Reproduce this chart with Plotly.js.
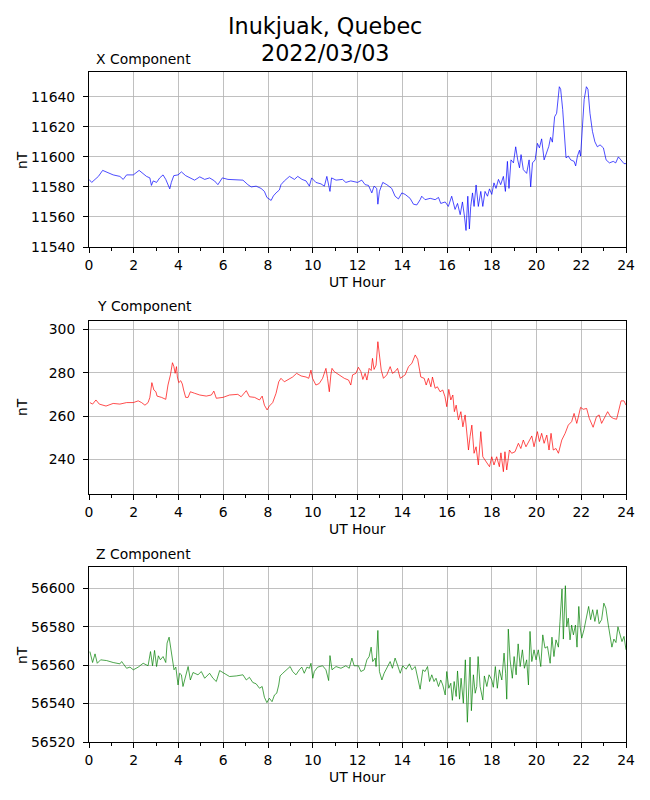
<!DOCTYPE html>
<html>
<head>
<meta charset="utf-8">
<script src="https://cdn.plot.ly/plotly-3.0.1.min.js"></script>
<style>html,body{margin:0;padding:0;background:#fff;}#chart{width:650px;height:800px;}</style>
</head>
<body>
<div id="chart"></div>
<script>
// ---- data ----
const xHours = [0.00,0.12,0.27,0.42,0.61,0.79,1.08,1.38,1.53,1.68,1.98,2.24,2.42,2.57,2.72,2.79,2.87,3.02,3.16,3.31,3.43,3.53,3.61,3.68,3.79,3.98,4.13,4.32,4.50,4.72,4.95,5.17,5.39,5.61,5.76,5.96,6.21,6.58,6.88,7.10,7.25,7.47,7.69,7.84,7.95,8.14,8.24,8.36,8.51,8.58,8.73,8.96,9.18,9.33,9.52,9.70,9.85,9.95,10.14,10.37,10.52,10.63,10.71,10.77,10.84,11.04,11.33,11.48,11.70,
12.00,12.19,12.34,12.49,12.64,12.74,12.86,12.91,12.98,13.13,13.31,13.53,13.68,13.83,13.98,14.13,14.35,14.50,14.65,14.80,14.87,15.02,15.25,15.47,15.62,15.72,15.92,16.06,16.21,16.36,16.47,16.59,16.69,16.78,16.85,16.93,17.00,17.06,17.14,17.21,17.30,17.40,17.51,17.60,17.70,17.81,17.90,18.00,18.10,18.19,18.30,18.40,18.52,18.61,18.70,18.77,18.86,18.97,19.07,19.16,19.24,19.31,19.41,19.56,19.67,19.74,19.82,19.94,20.04,20.13,20.23,20.34,20.46,20.55,20.63,20.71,20.81,20.90,21.02,21.08,21.17,21.25,21.32,21.42,21.53,21.68,21.75,21.83,21.92,21.97,22.06,22.13,22.23,22.30,22.39,22.50,22.61,22.72,22.84,22.99,23.11,23.26,23.43,23.54,23.66,23.81,23.91,24.00];
const xValues = [11585,11583,11585,11587,11591,11590,11588,11587,11585,11588,11588,11591,11589,11587,11586,11581,11584,11583,11586,11588,11585,11581.5,11578.7,11583,11587.5,11588,11590,11587.5,11586,11584.5,11586.7,11585,11586,11584,11581.5,11586,11585,11585,11584.5,11581.5,11580,11580.5,11579,11577,11573,11571,11574,11576,11578,11581.5,11584,11587,11585,11587,11585,11584,11580.5,11586,11583,11582,11580.5,11587,11580.5,11577,11586,11584.5,11585,11583,11584,
11583,11584.5,11581.5,11581,11576,11580.5,11579,11568.5,11577,11583,11581.5,11579,11573.8,11572,11576,11575,11572.4,11568.5,11568,11571.5,11573.8,11571.5,11572.4,11571.5,11573,11569,11570,11567,11573.8,11565,11569,11561.5,11570,11560.5,11551,11573.8,11552,11567,11576,11567,11581.3,11567,11577,11567,11577,11573.8,11578.7,11575,11582.7,11579,11585,11581.5,11587,11577,11597,11579,11598,11596,11606.7,11598,11592.7,11601.5,11591.5,11589,11598,11580,11596,11598,11609,11606,11612,11598,11602.7,11607,11613,11609.8,11626.7,11629,11646.7,11645,11631.5,11615,11599.3,11600.5,11598,11597,11594,11600.5,11604.4,11600.5,11620.5,11638.2,11646.7,11645,11629,11617,11610,11606.7,11608,11606,11598,11596,11597,11596,11600,11597,11595.5,11595.5];

const yHours = [0.04,0.16,0.31,0.46,0.76,1.08,1.38,1.68,1.98,2.20,2.35,2.50,2.64,2.72,2.81,2.90,2.99,3.04,3.24,3.43,3.53,3.64,3.73,3.79,3.85,3.91,3.95,4.01,4.10,4.17,4.23,4.32,4.43,4.53,4.72,4.95,5.24,5.47,5.58,5.69,5.99,6.28,6.65,6.80,7.03,7.17,7.40,7.62,7.74,7.84,7.96,8.06,8.21,8.36,8.48,8.58,8.73,8.88,9.10,9.28,9.48,9.70,9.82,9.92,9.99,10.14,10.29,10.44,10.59,10.66,10.74,10.81,10.86,10.96,11.18,11.41,11.60,11.70,11.78,11.93,
12.04,12.15,12.24,12.34,12.42,12.52,12.61,12.67,12.74,12.83,12.91,12.98,13.06,13.16,13.31,13.46,13.56,13.68,13.79,13.91,14.13,14.28,14.43,14.58,14.69,14.83,14.98,15.07,15.17,15.28,15.35,15.47,15.57,15.69,15.81,15.91,15.99,16.08,16.17,16.26,16.33,16.41,16.51,16.62,16.71,16.81,16.88,16.96,17.03,17.11,17.21,17.30,17.40,17.51,17.60,17.70,17.78,17.90,18.00,18.10,18.22,18.34,18.41,18.52,18.59,18.67,18.79,18.89,19.04,19.19,19.30,19.41,19.53,19.64,19.79,19.89,20.04,20.13,20.23,20.34,20.46,20.56,20.65,20.75,20.87,20.98,21.13,21.28,21.42,21.57,21.68,21.80,21.89,21.97,22.09,22.24,22.36,22.53,22.68,22.80,22.91,23.06,23.18,23.31,23.43,23.58,23.70,23.78,23.91,24.00];
const yValues = [266.2,265.5,267.4,265.5,264.6,265.8,265.5,266.2,266.2,267,266.2,265,266.2,268.6,275.4,272,271.2,269.2,268.6,267.7,274.3,279,284.6,283,279.7,282.8,278,275.4,276.3,274.8,272,268.6,268.6,271.2,270.5,269.7,269.2,269.7,271.5,268.2,268.6,269.7,270,268.9,271.7,268.9,268.6,267.4,269.2,265,262.8,264.6,266.2,270.5,275.8,277.4,275.8,276.6,278,279.7,278.5,278,277.4,281.2,277.4,274.3,275,277.4,282,277.4,271.2,279,282,280.5,279,277.4,276.6,274.3,279,279.7,
282.5,280.5,276.9,279.7,276.6,282,281,286.6,281.5,283.5,294.3,288.9,281.2,277.4,279,282.8,279.7,280.5,282,277.4,279,282.8,284.3,288.2,286.2,278,277.4,274.3,277.4,273.5,278,272.8,273.5,271.2,272,268.9,264.3,272.3,267.4,269.7,262,265,258.2,262,255,260.5,254.3,244.3,250.5,255.8,242.8,245.8,237.4,252.8,241.2,239.7,238.2,236.6,241.2,237.4,241.2,236.6,243,234.3,243.5,235.1,244.3,242.8,243.5,247.4,245,248.9,245.8,248.2,250.8,245.8,252.8,248.2,252,247.4,251.2,244.3,252,244.3,245,242.8,248.9,252,255.8,257.4,261.2,256.6,261.2,264,263.1,263.5,258.9,254.8,259.7,260.5,256.6,259.7,262,259.7,258.9,258.5,263.5,267,267,265];

const zHours = [0.04,0.16,0.27,0.37,0.52,0.79,1.08,1.38,1.46,1.68,1.83,1.98,2.20,2.42,2.64,2.75,2.84,2.93,3.02,3.10,3.19,3.31,3.43,3.49,3.58,3.64,3.73,3.80,3.88,3.98,4.05,4.13,4.20,4.32,4.43,4.53,4.65,4.87,5.02,5.17,5.39,5.54,5.69,5.84,6.06,6.28,6.58,6.88,7.03,7.17,7.32,7.47,7.62,7.74,7.84,7.95,8.06,8.18,8.29,8.39,8.48,8.54,8.66,8.81,8.99,9.10,9.25,9.40,9.51,9.62,9.74,9.85,9.92,10.00,10.07,10.22,10.44,10.59,10.71,10.77,10.86,11.04,11.26,11.48,11.63,11.75,11.85,
12.04,12.15,12.30,12.42,12.52,12.61,12.68,12.79,12.83,12.91,12.98,13.09,13.19,13.34,13.46,13.56,13.68,13.80,13.91,14.02,14.17,14.32,14.43,14.58,14.72,14.80,14.92,15.02,15.13,15.22,15.32,15.42,15.51,15.62,15.72,15.81,15.92,15.99,16.08,16.17,16.24,16.32,16.41,16.47,16.56,16.63,16.73,16.82,16.91,16.97,17.03,17.09,17.18,17.26,17.33,17.39,17.48,17.60,17.67,17.78,17.88,18.00,18.07,18.16,18.25,18.34,18.45,18.55,18.62,18.67,18.74,18.82,18.92,19.00,19.09,19.18,19.27,19.37,19.46,19.56,19.64,19.71,19.79,19.89,19.98,20.08,20.19,20.28,20.38,20.49,20.61,20.69,20.78,20.87,20.98,21.05,21.14,21.20,21.29,21.35,21.42,21.50,21.57,21.65,21.74,21.81,21.89,21.95,22.02,22.12,22.24,22.33,22.42,22.51,22.61,22.71,22.80,22.91,23.01,23.10,23.21,23.31,23.37,23.46,23.55,23.64,23.73,23.82,23.91,24.00];
const zValues = [56567.1,56561.4,56565.9,56561,56562.8,56562.4,56561.4,56560.7,56561.9,56558.4,56559,56557.6,56559,56561,56559.7,56567.1,56559.7,56567.7,56559.3,56564.9,56562.8,56564.5,56561.4,56571.5,56574.6,56569.4,56562.8,56557.6,56559,56549.7,56555.8,56555,56548.9,56555,56559.3,56552.3,56556.2,56555,56556.7,56553.2,56555.8,56553.2,56551.5,56557.2,56555.8,56554.1,56554.4,56555,56552.3,56553.7,56551,56550.3,56548,56548.9,56543.3,56540.5,56542.8,56541,56544.5,56545.4,56549.7,56554.4,56555.8,56557.6,56559.3,56556.7,56555,56557.6,56559,56555.8,56559,56558.4,56561,56553.2,56556.7,56559,56559.7,56557.6,56552,56565,56557.6,56559.3,56558.4,56559.7,56558.4,56563.7,56559.7,
56559.7,56556.7,56557.6,56562.8,56564.5,56569.4,56561.9,56563.7,56559.3,56578.1,56556.7,56552.3,56555.8,56559.3,56561.9,56558.4,56563.7,56559.7,56555.8,56559.7,56557.9,56560.7,56557.6,56559.3,56550.6,56547.5,56557.6,56556.7,56559.3,56551.5,56555,56551.5,56553.2,56548.9,56552.3,56549.7,56544.5,56556.7,56548,56550.6,56541.7,56551.5,56543.7,56557,56542.3,56553.2,56540.2,56562.8,56530.3,56545.4,56564.2,56536.3,56555,56545.4,56548.9,56564.5,56548.9,56541.9,56554.4,56548.9,56555,56552.3,56548.5,56559.3,56548,56557.6,56552.3,56566.3,56555.8,56542.3,56578.8,56562.8,56553.2,56564.5,56555,56571.1,56559.3,56568,56558.4,56562.8,56549.7,56577.6,56561.9,56568,56562.8,56568,56559.3,56575.8,56568.9,56569.7,56561,56574.6,56564.5,56573.2,56569.4,56582.8,56599.7,56573.6,56601.4,56580,56584.5,56573.2,56580.9,56575.8,56580.9,56569.4,56590.6,56580,56574.1,56578.4,56584.5,56590.6,56583.7,56588.9,56582.8,56588.9,56581.6,56583.7,56592.3,56589.7,56580.9,56573.2,56569.4,56573.6,56571.8,56580,56575.8,56572.3,56575,56568];

const titleLines = ["Inukjuak, Quebec", "2022/03/03"];
const panelTitles = ["X Component", "Y Component", "Z Component"];
const xTickVals = [0,2,4,6,8,10,12,14,16,18,20,22,24];
const yTickX = [11540,11560,11580,11600,11620,11640];
const yTickY = [240,260,280,300];
const yTickZ = [56520,56540,56560,56580,56600];

// ---- chart ----
const FONT = "DejaVu Sans, Liberation Sans, sans-serif";
const H = 800, T = 72, B = 58, PH = H - T - B;
const py = px => (H - B - px) / PH; // pixel y -> paper y

const traces = [
  {x: xHours, y: xValues, xaxis: 'x', yaxis: 'y', mode: 'lines', line: {color: '#0000ff', width: 0.7}},
  {x: yHours, y: yValues, xaxis: 'x2', yaxis: 'y2', mode: 'lines', line: {color: '#ff0000', width: 0.7}},
  {x: zHours, y: zValues, xaxis: 'x3', yaxis: 'y3', mode: 'lines', line: {color: '#008000', width: 0.7}}
];

function xAxis(anchor) {
  return {
    anchor: anchor, domain: [0, 1], range: [0, 24], tickvals: xTickVals,
    ticks: 'outside', ticklen: 5, tickwidth: 1, tickcolor: '#000',
    showline: true, linecolor: '#000', linewidth: 1, mirror: true,
    showgrid: true, gridcolor: '#b0b0b0', gridwidth: 0.8, zeroline: false,
    tickfont: {family: FONT, size: 13.9, color: '#000'},
    minor: {dtick: 1, ticks: 'outside', ticklen: 3, tickcolor: '#000', showgrid: false}
  };
}
function yAxis(anchor, domain, range, ticks) {
  return {
    anchor: anchor, domain: domain, range: range, tickvals: ticks,
    ticktext: ticks.map(String),
    exponentformat: 'none', separatethousands: false,
    ticks: 'outside', ticklen: 5, tickwidth: 1, tickcolor: '#000',
    ticklabelstandoff: 5,
    showline: true, linecolor: '#000', linewidth: 1, mirror: true,
    showgrid: true, gridcolor: '#b0b0b0', gridwidth: 0.8, zeroline: false,
    tickfont: {family: FONT, size: 13.9, color: '#000'}
  };
}

const d1 = [py(247), 1], d2 = [py(494), py(320.7)], d3 = [0, py(566.7)];
const txt = (text, x, y, size, extra) => Object.assign({
  text: text, xref: 'paper', yref: 'paper', x: x, y: y, showarrow: false,
  font: {family: FONT, size: size, color: '#000'}, xanchor: 'center', yanchor: 'middle'
}, extra || {});
const pxX = px => (px - 89) / 537;

const annotations = [
  txt(titleLines[0], pxX(325), py(26), 22.3),
  txt(titleLines[1], pxX(325), py(53), 22.3),
  txt(panelTitles[0], pxX(93.5), py(58.5), 13.9, {xanchor: 'left'}),
  txt(panelTitles[1], pxX(94.5), py(306), 13.9, {xanchor: 'left'}),
  txt(panelTitles[2], pxX(93.5), py(554), 13.9, {xanchor: 'left'}),
  txt("UT Hour", 0.5, py(282), 13.9),
  txt("UT Hour", 0.5, py(529), 13.9),
  txt("UT Hour", 0.5, py(777), 13.9),
  txt("nT", pxX(22), py(160), 13.9, {textangle: -90}),
  txt("nT", pxX(22), py(407), 13.9, {textangle: -90}),
  txt("nT", pxX(22), py(655), 13.9, {textangle: -90})
];

const layout = {
  width: 650, height: 800,
  margin: {l: 89, r: 24, t: T, b: B},
  paper_bgcolor: '#fff', plot_bgcolor: '#fff',
  showlegend: false,
  font: {family: FONT, size: 13.9, color: '#000'},
  xaxis: xAxis('y'), xaxis2: xAxis('y2'), xaxis3: xAxis('y3'),
  yaxis: yAxis('x', d1, [11540, 11656.5], yTickX),
  yaxis2: yAxis('x2', d2, [224, 304], yTickY),
  yaxis3: yAxis('x3', d3, [56520, 56611.3], yTickZ),
  annotations: annotations
};

Plotly.newPlot('chart', traces, layout, {staticPlot: true, displayModeBar: false});
</script>
</body>
</html>
